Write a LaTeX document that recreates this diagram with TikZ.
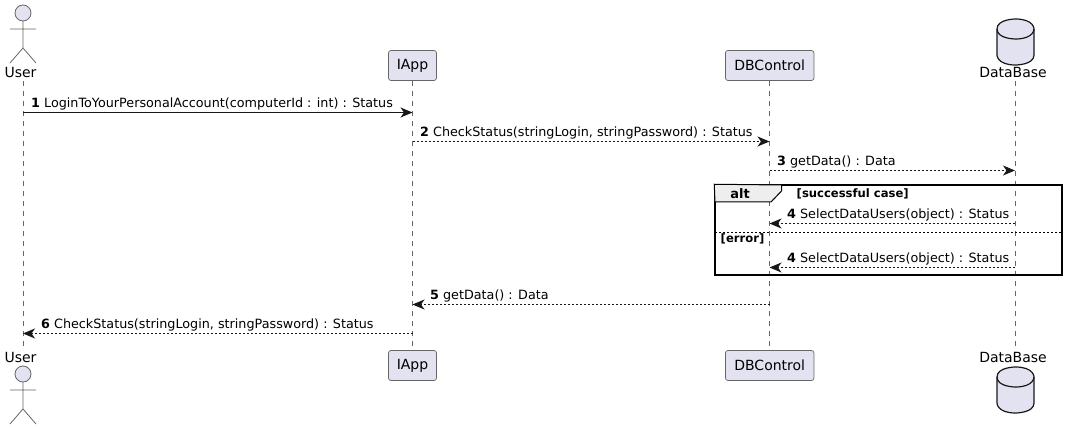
\documentclass[tikz,border=0pt]{standalone}
\usepackage{fontspec}
\setmainfont{DejaVu Sans}
\usetikzlibrary{arrows.meta}
\definecolor{partfill}{HTML}{E2E2F0}
\definecolor{partline}{HTML}{181818}
\definecolor{thinline}{HTML}{666666}
\definecolor{tabfill}{HTML}{EEEEEE}
\tikzset{
  partbox/.style={draw=thinline,line width=.7pt,fill=partfill,rounded corners=2.5pt,
    minimum height=30pt,inner xsep=0pt,inner ysep=0pt,font=\fontsize{14}{16}\selectfont},
  partname/.style={inner sep=0pt,font=\fontsize{14}{16}\selectfont},
  lifeline/.style={thinline,line width=.7pt,dash pattern=on 5pt off 5pt},
  msgsolid/.style={draw=partline,line width=1pt,-{Stealth[length=12pt,width=10pt,inset=3.5pt]}},
  msgdash/.style={msgsolid,dash pattern=on 2pt off 2pt},
  msgtext/.style={anchor=base west,inner sep=0pt,font=\fontsize{12.75}{15}\selectfont},
  guard/.style={anchor=base west,inner sep=0pt,font=\fontsize{11.6}{13}\selectfont\bfseries},
  altframe/.style={draw=black,line width=1.5pt,minimum width=347pt,minimum height=90pt,inner sep=0pt},
  actoricon/.pic={
    \draw[thinline,line width=.8pt,fill=partfill] (0,8) circle (8pt);
    \draw[thinline,line width=.8pt] (0,16) -- (0,43) (-13,24) -- (13,24) (-13,58) -- (0,43) -- (13,58);
  },
  dbicon/.pic={
    \draw[partline,line width=1.2pt,fill=partfill] (-18.5,10) .. controls (-18.5,0) and (0,0) .. (0,0)
      .. controls (18.5,0) and (18.5,10) .. (18.5,10) -- (18.5,36)
      .. controls (18.5,46) and (0,46) .. (0,46) .. controls (-18.5,46) and (-18.5,36) .. (-18.5,36) -- cycle;
    \draw[partline,line width=1.2pt] (-18.5,10) .. controls (-18.5,20) and (0,20) .. (0,20)
      .. controls (18.5,20) and (18.5,10) .. (18.5,10);
  }
}
\begin{document}
\begin{tikzpicture}[x=1pt,y=-1pt]
  \useasboundingbox (0,0) rectangle (1068,430);

  \node[partname] (userT) at (20.5,72.5) {User};
  \node[partbox,minimum width=48pt] (iappT) at (412.5,65.5) {IApp};
  \node[partbox,minimum width=88.5pt] (dbctlT) at (769.7,65.5) {DBControl};
  \node[partname] (dataT) at (1013,72.5) {DataBase};

  \node[partname] (userB) at (20.5,357.5) {User};
  \node[partbox,minimum width=48pt] (iappB) at (412.5,365.5) {IApp};
  \node[partbox,minimum width=88.5pt] (dbctlB) at (769.7,365.5) {DBControl};
  \node[partname] (dataB) at (1013,357.5) {DataBase};

  \pic at (23,5) {actoricon};
  \pic at (23,366) {actoricon};
  \pic at (1015.5,19) {dbicon};
  \pic at (1015.5,367) {dbicon};

  \coordinate (userA) at (23,81);
  \coordinate (userZ) at (23,350);
  \coordinate (dataA) at (1015,81);
  \coordinate (dataZ) at (1015,350);

  \foreach \from/\to in {userA/userZ,iappT.south/iappB.north,dbctlT.south/dbctlB.north,dataA/dataZ}
    \draw[lifeline] (\from) -- (\to);

  \foreach \name/\xpos/\ypos in {m1a/23/112.5,m1b/412.5/112.5,m2a/412.5/141.5,m2b/769.5/141.5,
      m3a/769.5/170.5,m3b/1015/170.5,m4a/1015/223.5,m4b/769.5/223.5,m5a/1015/267.5,m5b/769.5/267.5,
      m6a/769.5/304.5,m6b/412.5/304.5,m7a/412.5/333.5,m7b/23/333.5}
    \coordinate (\name) at (\xpos,\ypos);

  \draw[msgsolid] (m1a) -- (m1b);
  \foreach \from/\to in {m2a/m2b,m3a/m3b,m4a/m4b,m5a/m5b,m6a/m6b,m7a/m7b}
    \draw[msgdash] (\from) -- (\to);

  \node[msgtext] (t1) at (31,108) {\textbf{1} LoginToYourPersonalAccount(computerId : int) : Status};
  \node[msgtext] (t2) at (420,137) {\textbf{2} CheckStatus(stringLogin, stringPassword) : Status};
  \node[msgtext] (t3) at (777,166) {\textbf{3} getData() : Data};
  \node[msgtext] (t4) at (787,219) {\textbf{4} SelectDataUsers(object) : Status};
  \node[msgtext] (t5) at (787,263) {\textbf{4} SelectDataUsers(object) : Status};
  \node[msgtext] (t6) at (430,299) {\textbf{5} getData() : Data};
  \node[msgtext] (t7) at (41,328) {\textbf{6} CheckStatus(stringLogin, stringPassword) : Status};

  \node[altframe] (alt) at (888.5,230) {};
  \draw[black,line width=1pt,fill=tabfill] (alt.north west) -- (781.5,185) -- (781.5,191) -- (771,202) -- (715,202) -- cycle;
  \node[inner sep=0pt,anchor=base,font=\fontsize{13}{15}\selectfont\bfseries] (altname) at (740,199) {alt};
  \node[guard] (g1) at (796.5,198) {[successful case]};
  \coordinate (divA) at (715,232);
  \coordinate (divB) at (1062,232);
  \draw[black,line width=.7pt,dash pattern=on 2pt off 2pt] (divA) -- (divB);
  \node[guard] (g2) at (720.5,243) {[error]};
\end{tikzpicture}
\end{document}
